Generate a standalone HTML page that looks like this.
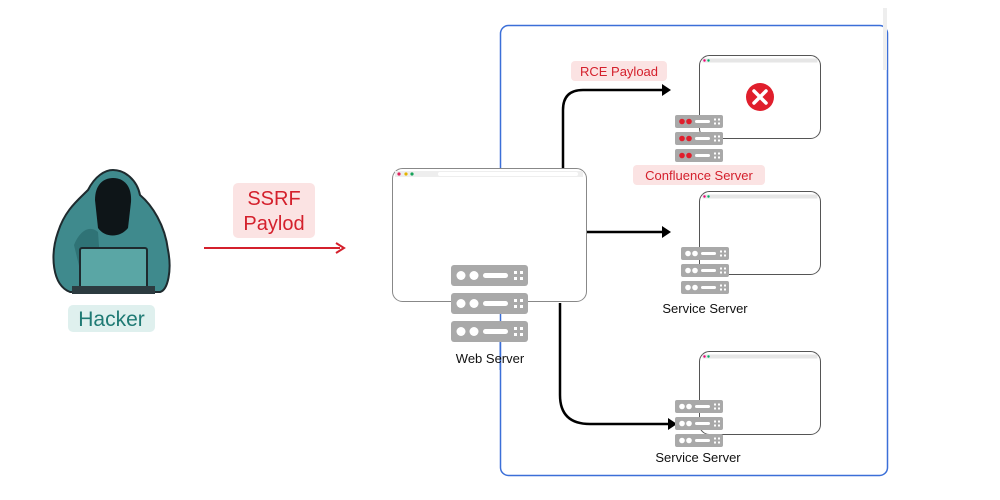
<!DOCTYPE html>
<html><head><meta charset="utf-8"><style>
html,body{margin:0;padding:0;background:#fff;}
svg{display:block;font-family:"Liberation Sans",sans-serif;}
</style></head><body>
<svg width="1000" height="500" viewBox="0 0 1000 500" xmlns="http://www.w3.org/2000/svg">
<defs>
<g id="bigbar"><rect x="0" y="0" width="77" height="21" rx="3" fill="#a9a9a9"/><circle cx="10" cy="10.5" r="4.5" fill="#fff"/><circle cx="23" cy="10.5" r="4.5" fill="#fff"/><rect x="32" y="8" width="25" height="5" rx="2.5" fill="#fff"/><rect x="63" y="6" width="3" height="3" fill="#fff"/><rect x="69" y="6" width="3" height="3" fill="#fff"/><rect x="63" y="12" width="3" height="3" fill="#fff"/><rect x="69" y="12" width="3" height="3" fill="#fff"/></g>
<g id="sbar"><rect x="0" y="0" width="48" height="13" rx="2" fill="#a9a9a9"/><circle cx="7" cy="6.5" r="2.8" fill="#fff"/><circle cx="14" cy="6.5" r="2.8" fill="#fff"/><rect x="20" y="5" width="15" height="3" rx="1.5" fill="#fff"/><rect x="39" y="3.5" width="2" height="2" fill="#fff"/><rect x="43" y="3.5" width="2" height="2" fill="#fff"/><rect x="39" y="7.5" width="2" height="2" fill="#fff"/><rect x="43" y="7.5" width="2" height="2" fill="#fff"/></g>
<g id="rbar"><rect x="0" y="0" width="48" height="13" rx="2" fill="#a9a9a9"/><circle cx="7" cy="6.5" r="2.8" fill="#e01e2c"/><circle cx="14" cy="6.5" r="2.8" fill="#e01e2c"/><rect x="20" y="5" width="15" height="3" rx="1.5" fill="#fff"/><rect x="39" y="3.5" width="2" height="2" fill="#fff"/><rect x="43" y="3.5" width="2" height="2" fill="#fff"/><rect x="39" y="7.5" width="2" height="2" fill="#fff"/><rect x="43" y="7.5" width="2" height="2" fill="#fff"/></g>
<g id="sbrowser"><rect x="0" y="0" width="121" height="83" rx="10" fill="#fff" stroke="#555" stroke-width="1"/><rect x="3" y="3" width="115" height="4" fill="#e6e6e6"/><circle cx="5" cy="5" r="1.2" fill="#e07"/><circle cx="9" cy="5" r="1.2" fill="#0a6"/></g>
</defs>

<!-- blue container -->
<rect x="500.5" y="25.5" width="387" height="450" rx="8" fill="none" stroke="#3b6fd8" stroke-width="1.5"/>
<rect x="883" y="8" width="4" height="62" fill="#eee"/>

<!-- hacker -->
<path d="M70 292 C52 285 50 255 58 232 C65 210 78 200 88 190 C95 176 105 170 113 170 C125 170 137 180 140 195 C152 205 165 225 168 250 C172 270 168 290 160 292 Z" fill="#3f8a8d" stroke="#1e2a2e" stroke-width="2"/>
<path d="M95 200 C95 185 103 178 113 178 C124 178 132 186 131 202 L128 228 C120 238 105 238 98 228 Z" fill="#0e1518"/>
<path d="M74 245 C80 230 90 225 98 232 L100 260 L80 270 Z" fill="#2f7376"/>
<rect x="80" y="248" width="67" height="40" rx="2" fill="#5aa6a5" stroke="#1e2a2e" stroke-width="2"/>
<rect x="72" y="286" width="83" height="8" fill="#2c3b40"/>
<rect x="68" y="305" width="87" height="27" rx="5" fill="#dff0ee"/>
<text x="111.5" y="326" text-anchor="middle" font-size="21" fill="#1f7a74">Hacker</text>

<!-- SSRF -->
<rect x="233" y="183" width="82" height="55" rx="5" fill="#fbe3e3"/>
<text x="274" y="205" text-anchor="middle" font-size="20" fill="#d4202c">SSRF</text>
<text x="274" y="230" text-anchor="middle" font-size="20" fill="#d4202c">Paylod</text>
<line x1="204" y1="248" x2="340" y2="248" stroke="#d4202c" stroke-width="2"/>
<path d="M336 243 L344 248 L336 253" fill="none" stroke="#d4202c" stroke-width="2"/>

<!-- arrows -->
<path d="M563 168 L563 110 Q563 90 583 90 L664 90" fill="none" stroke="#000" stroke-width="2.5"/>
<path d="M662 84 L671 90 L662 96 Z" fill="#000"/>
<path d="M586 232 L664 232" fill="none" stroke="#000" stroke-width="2.5"/>
<path d="M662 226 L671 232 L662 238 Z" fill="#000"/>
<path d="M560 303 L560 395 Q560 424 590 424 L670 424" fill="none" stroke="#000" stroke-width="2.5"/>
<path d="M668 418 L677 424 L668 430 Z" fill="#000"/>

<!-- web server -->
<rect x="392.5" y="168.5" width="194" height="133" rx="10" fill="#fff" stroke="#888" stroke-width="1"/>
<rect x="395" y="171" width="188" height="6" fill="#eee"/>
<circle cx="399" cy="174" r="1.6" fill="#e0245e"/><circle cx="406" cy="174" r="1.6" fill="#e6b400"/><circle cx="412" cy="174" r="1.6" fill="#17a35a"/>
<rect x="438" y="172" width="140" height="4" rx="2" fill="#fff"/>
<use href="#bigbar" x="451" y="265"/>
<use href="#bigbar" x="451" y="293"/>
<use href="#bigbar" x="451" y="321"/>
<line x1="500" y1="342" x2="500" y2="370" stroke="#3b6fd8" stroke-width="1"/>
<text x="490" y="363" text-anchor="middle" font-size="13" fill="#111">Web Server</text>

<!-- confluence -->
<use href="#sbrowser" x="699.5" y="55.5"/>
<circle cx="760" cy="97" r="14" fill="#e01e2c"/>
<path d="M754 91 L766 103 M766 91 L754 103" stroke="#fff" stroke-width="3.5" stroke-linecap="round"/>
<use href="#rbar" x="675" y="115"/>
<use href="#rbar" x="675" y="132"/>
<use href="#rbar" x="675" y="149"/>
<rect x="633" y="165" width="132" height="20" rx="4" fill="#fbe3e3"/>
<text x="699" y="180" text-anchor="middle" font-size="13" fill="#d4202c">Confluence Server</text>
<rect x="571" y="61" width="96" height="20" rx="4" fill="#fbe3e3"/>
<text x="619" y="76" text-anchor="middle" font-size="13" fill="#d4202c">RCE Payload</text>

<!-- service 1 -->
<use href="#sbrowser" x="699.5" y="191.5"/>
<use href="#sbar" x="681" y="247"/>
<use href="#sbar" x="681" y="264"/>
<use href="#sbar" x="681" y="281"/>
<text x="705" y="313" text-anchor="middle" font-size="13" fill="#111">Service Server</text>

<!-- service 2 -->
<use href="#sbrowser" x="699.5" y="351.5"/>
<use href="#sbar" x="675" y="400"/>
<use href="#sbar" x="675" y="417"/>
<use href="#sbar" x="675" y="434"/>
<text x="698" y="462" text-anchor="middle" font-size="13" fill="#111">Service Server</text>
</svg>
</body></html>
